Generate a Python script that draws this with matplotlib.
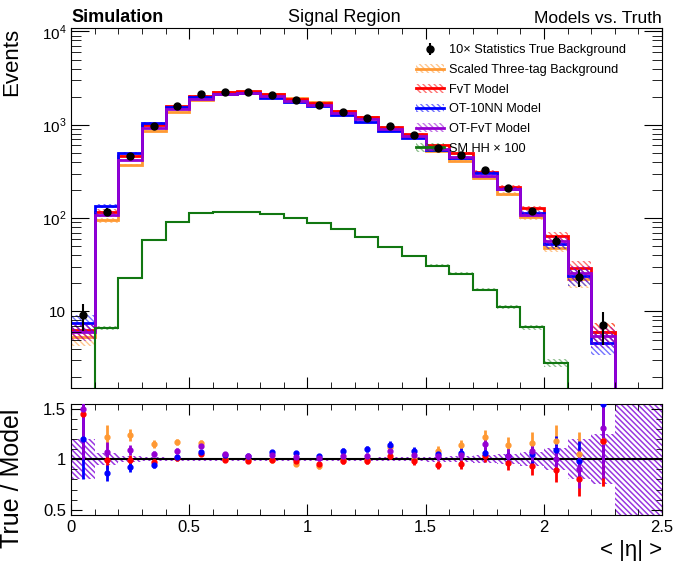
import numpy as np
import matplotlib
matplotlib.use('Agg')
import matplotlib.pyplot as plt
from matplotlib.ticker import MultipleLocator, LogLocator, FuncFormatter, NullFormatter
from matplotlib.lines import Line2D
from matplotlib.patches import Patch

plt.rcParams['font.family'] = ['Liberation Sans', 'DejaVu Sans']
plt.rcParams['mathtext.fontset'] = 'custom'
plt.rcParams['mathtext.rm'] = 'Liberation Sans'
plt.rcParams['hatch.linewidth'] = 1.0

# 25 bins of <|eta|>, width 0.1
edges = np.round(np.linspace(0, 2.5, 26), 2)
centers = edges[:-1] + 0.05

# true background (10x stats)
true_bkg = [9.1, 116, 457, 975, 1590, 2140, 2240, 2240, 2090, 1850, 1630, 1375, 1190,
            975, 780, 570, 470, 325, 209, 118, 57, 23.2, 7.1, 0, 0]
true_err = [3.0, 10.8, 21.4, 31.2, 39.9, 46.3, 47.3, 47.3, 45.7, 43.0, 40.4, 37.1, 34.5,
            31.2, 27.9, 23.9, 21.7, 18.0, 14.5, 10.9, 7.5, 4.8, 2.7, 0, 0]

# true / model ratios
ratio_threetag = [1.72, 1.22, 1.24, 1.15, 1.17, 1.16, 1.00, 0.99, 0.99, 0.95, 0.93, 0.99, 0.99,
                  1.12, 1.00, 1.08, 1.14, 1.22, 1.14, 1.16, 1.18, 1.05, 1.18, np.nan, np.nan]
ratio_fvt = [1.45, 0.99, 0.99, 0.97, 1.01, 1.05, 0.99, 0.98, 0.99, 0.98, 0.95, 0.98, 0.98,
             1.03, 0.98, 0.94, 0.95, 1.03, 0.96, 0.93, 0.89, 0.80, 1.18, np.nan, np.nan]
ratio_ot10nn = [1.20, 0.86, 0.92, 0.94, 1.02, 1.07, 1.04, 1.03, 1.07, 1.06, 1.03, 1.08, 1.10,
                1.14, 1.08, 1.05, 1.06, 1.06, 1.03, 1.05, 1.09, 0.98, 1.55, np.nan, np.nan]
ratio_otfvt = [1.50, 1.07, 1.09, 1.05, 1.08, 1.13, 1.05, 1.03, 1.04, 1.02, 1.01, 1.03, 1.03,
               1.08, 1.04, 1.03, 1.04, 1.15, 1.03, 1.08, 1.00, 0.90, 1.31, np.nan, np.nan]

# relative model uncertainty (hatched bands)
band_rel = [0.20, 0.06, 0.03, 0.02, 0.015, 0.015, 0.015, 0.015, 0.015, 0.015, 0.015, 0.015, 0.015,
            0.02, 0.02, 0.025, 0.03, 0.04, 0.05, 0.07, 0.11, 0.20, 0.25, 0, 0]

# SM HH x 100
sm_hh = [0, 6.6, 22.8, 58, 91, 114, 117, 117, 111, 101, 88, 76, 62,
         49.5, 39.4, 31, 25.4, 17.1, 11.1, 6.8, 2.8, 0, 0, 0, 0]
sm_rel = [0, 0.05, 0.03, 0.02, 0.02, 0.02, 0.02, 0.02, 0.02, 0.02, 0.02, 0.02, 0.02,
          0.02, 0.03, 0.03, 0.03, 0.04, 0.05, 0.06, 0.10, 0, 0, 0, 0]

true_bkg = np.array(true_bkg)
true_err = np.array(true_err)
band_rel = np.array(band_rel)

models = [
    ('Scaled Three-tag Background', np.array(ratio_threetag), '#ff9933'),
    ('FvT Model', np.array(ratio_fvt), '#ff0000'),
    ('OT-10NN Model', np.array(ratio_ot10nn), '#0000ff'),
    ('OT-FvT Model', np.array(ratio_otfvt), '#9400d3'),
]

TINY = 1e-3
HATCH = '\\' * 6

fig = plt.figure(figsize=(6.77, 5.62), dpi=100)
ax = fig.add_axes([0.105, 0.309, 0.873, 0.642])
rax = fig.add_axes([0.105, 0.084, 0.873, 0.198])


def band(a, y, rel, c, alpha=0.55, hatch=HATCH):
    lo = np.append(y * (1 - rel), 0)
    hi = np.append(y * (1 + rel), 0)
    a.fill_between(edges, lo, hi, step='post', facecolor='none', edgecolor=c,
                   hatch=hatch, linewidth=0, alpha=alpha)


# upper panel
handles = []
for label, ratio, c in models:
    m = np.where(np.isnan(ratio), 0, true_bkg / np.where(np.isnan(ratio), 1, ratio))
    band(ax, m, band_rel, c)
    ax.stairs(np.where(m > 0, m, TINY), edges, color=c, lw=2, baseline=None)
    handles.append((Patch(facecolor='none', edgecolor=c, hatch=HATCH, lw=0, alpha=0.55),
                    Line2D([], [], color=c, lw=2)))

sm = np.array(sm_hh)
band(ax, sm, np.array(sm_rel), '#117711', alpha=0.45)
ax.stairs(np.where(sm > 0, sm, TINY), edges, color='#117711', lw=1.5, baseline=None)
handles.append((Patch(facecolor='none', edgecolor='#117711', hatch=HATCH, lw=0, alpha=0.45),
                Line2D([], [], color='#117711', lw=2)))

ok = true_bkg > 0
dat = ax.errorbar(centers[ok], true_bkg[ok], yerr=true_err[ok], fmt='o', color='black',
                  ms=5, elinewidth=1.5, capsize=0, zorder=10)

labels = ['10× Statistics True Background'] + [m[0] for m in models] + ['SM HH × 100']
ax.legend([dat] + handles, labels, loc='upper left', bbox_to_anchor=(0.607, 0.93),
          bbox_transform=fig.transFigure, frameon=False, fontsize=9.2, labelspacing=0.6,
          handlelength=2.2, handletextpad=0.35, borderaxespad=0)

ax.set_yscale('log')
ax.set_xlim(0, 2.5)
ax.set_ylim(1.5, 1.1e4)
ax.yaxis.set_major_locator(LogLocator(base=10, numticks=10))
ax.yaxis.set_minor_locator(LogLocator(base=10, subs=np.arange(2, 10), numticks=20))
ax.yaxis.set_minor_formatter(NullFormatter())
ax.yaxis.set_major_formatter(FuncFormatter(
    lambda v, p: '10' if abs(v - 10) < 1e-6 else r'$10^{%d}$' % round(np.log10(v))))
ax.xaxis.set_major_locator(MultipleLocator(0.5))
ax.xaxis.set_minor_locator(MultipleLocator(0.1))
ax.tick_params(which='both', direction='in', top=True, right=True, labelbottom=False,
               labelsize=11)
ax.tick_params(axis='y', which='major', length=13)
ax.tick_params(axis='y', which='minor', length=7)
ax.tick_params(axis='x', which='major', length=8)
ax.tick_params(axis='x', which='minor', length=4)
ax.set_ylabel('Events', fontsize=16, loc='top')
ax.yaxis.set_label_coords(-0.083, 1.0)

ax.text(0.0, 1.005, 'Simulation', transform=ax.transAxes, fontsize=13, fontweight='bold',
        ha='left', va='bottom')
ax.text(0.462, 1.005, 'Signal Region', transform=ax.transAxes, fontsize=13,
        ha='center', va='bottom')
ax.text(1.0, 1.005, 'Models vs. Truth', transform=ax.transAxes, fontsize=12.5,
        ha='right', va='bottom')

# ratio panel
ones = np.ones(len(centers))
full = np.where(band_rel > 0, band_rel, 10.0)
band(rax, ones, full, '#4d6bff', alpha=0.4)
band(rax, ones, full, '#9400d3', alpha=0.75)
rax.axhline(1, color='black', lw=1.5, zorder=5)

rel_err = np.where(ok, true_err / np.where(ok, true_bkg, 1), np.nan)
for label, ratio, c in models:
    good = ~np.isnan(ratio)
    rax.errorbar(centers[good], ratio[good], yerr=(ratio * rel_err)[good], fmt='o',
                 color=c, ms=3.5, elinewidth=2, capsize=0, zorder=6)

rax.set_xlim(0, 2.5)
rax.set_ylim(0.45, 1.55)
rax.xaxis.set_major_locator(MultipleLocator(0.5))
rax.xaxis.set_minor_locator(MultipleLocator(0.1))
rax.yaxis.set_major_locator(MultipleLocator(0.5))
rax.yaxis.set_minor_locator(MultipleLocator(0.1))
rax.xaxis.set_major_formatter(FuncFormatter(lambda v, p: '%g' % v))
rax.yaxis.set_major_formatter(FuncFormatter(lambda v, p: '%g' % v))
rax.tick_params(which='both', direction='in', top=True, right=True, labelsize=12)
rax.tick_params(which='major', length=8)
rax.tick_params(which='minor', length=4)
rax.set_ylabel('True / Model', fontsize=18)
rax.yaxis.set_label_coords(-0.08, 0.33)
rax.set_xlabel('< |η| >', fontsize=16, loc='right')

fig.savefig('out.png', dpi=100)
